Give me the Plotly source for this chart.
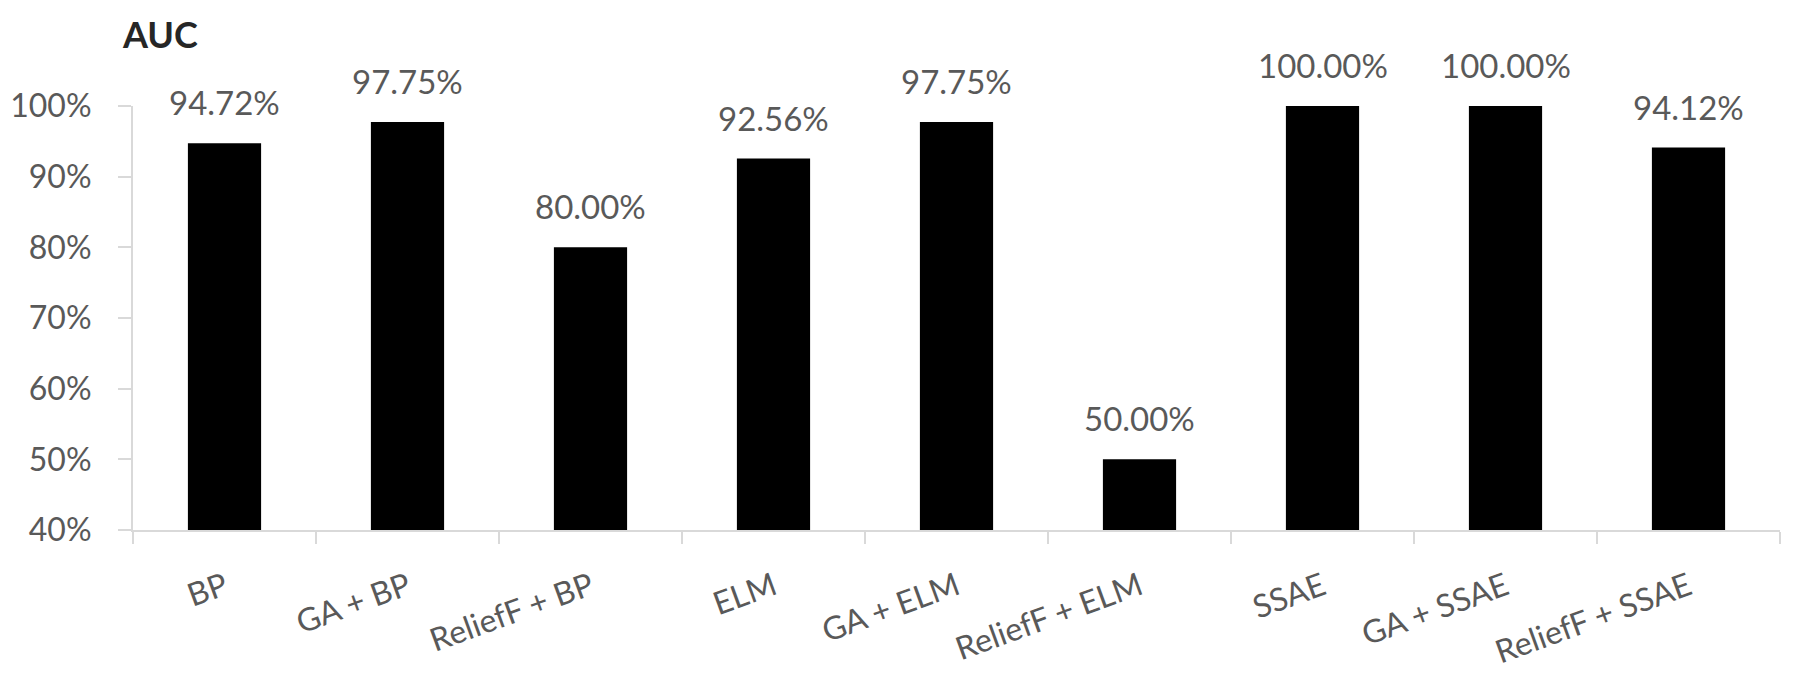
import plotly.graph_objects as go

models = ["BP", "GA + BP", "ReliefF + BP", "ELM", "GA + ELM", "ReliefF + ELM",
          "SSAE", "GA + SSAE", "ReliefF + SSAE"]
auc = [0.9472, 0.9775, 0.80, 0.9256, 0.9775, 0.50, 1.00, 1.00, 0.9412]

font_family = "Lato, 'Open Sans', sans-serif"
gray_txt = "#595959"
axis_col = "#d9d9d9"
baseline = 0.4

fig = go.Figure()
# bars start from the 40% baseline
fig.add_trace(go.Bar(
    x=models, y=[v - baseline for v in auc],
    base=baseline,
    marker=dict(color="black", line=dict(width=0)),
))

for m, v in zip(models, auc):
    fig.add_annotation(
        x=m, y=v, text=f"{v*100:.2f}%",
        showarrow=False, yanchor="bottom", yshift=19,
        font=dict(family=font_family, size=33, color=gray_txt),
    )

fig.update_layout(
    width=1795, height=679,
    margin=dict(l=125, r=23, t=98, b=157),
    plot_bgcolor="white", paper_bgcolor="white",
    showlegend=False,
    bargap=0.6,
    title=dict(text="<b>AUC</b>", x=0.064, xanchor="left", y=0.96, yanchor="middle",
               font=dict(family=font_family, size=36, color="#262626")),
)
fig.update_yaxes(
    range=[0.4, 1.0], tickvals=[0.4, 0.5, 0.6, 0.7, 0.8, 0.9, 1.0],
    tickformat=".0%", showgrid=False, zeroline=False, automargin=False,
    showline=True, linecolor=axis_col, linewidth=2,
    ticks="outside", ticklen=13, tickwidth=2, tickcolor=axis_col,
    ticklabelstandoff=20,
    tickfont=dict(family=font_family, size=32, color=gray_txt),
)
fig.update_xaxes(
    showline=True, linecolor=axis_col, linewidth=2, automargin=False,
    ticks="outside", ticklen=12, tickwidth=2, tickcolor=axis_col,
    tickson="boundaries", tickangle=-20, showgrid=False,
    ticklabelstandoff=24,
    tickfont=dict(family=font_family, size=32, color=gray_txt),
)

fig.write_html("out.html")
